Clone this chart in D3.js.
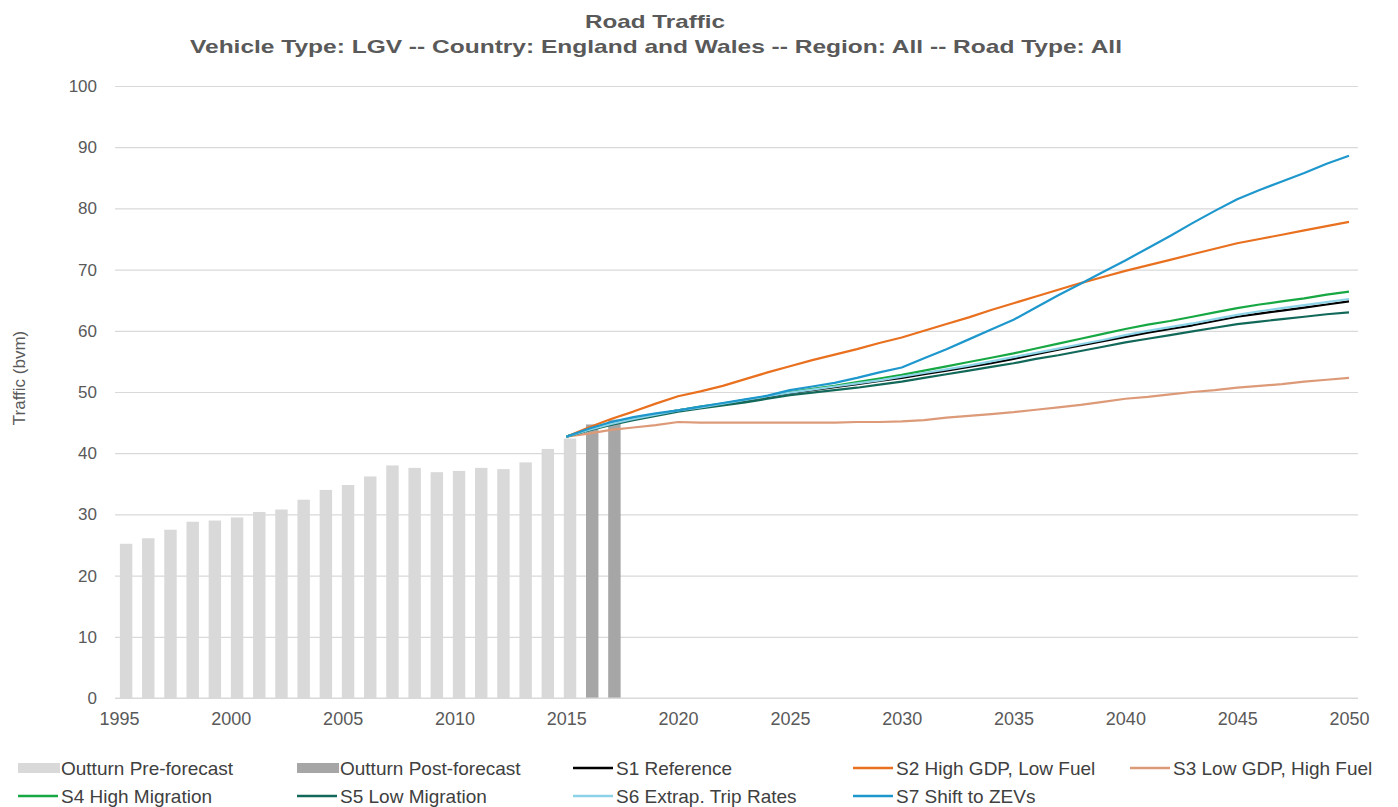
<!DOCTYPE html>
<html>
<head>
<meta charset="utf-8">
<script src="https://cdn.jsdelivr.net/npm/d3@7"></script>
<style>
  body { margin: 0; background: #fff; }
  svg { display: block; font-family: "Liberation Sans", Arial, sans-serif; }
</style>
</head>
<body>
<svg id="chart" width="1398" height="807"></svg>
<script>
"use strict";

// ─── Data ────────────────────────────────────────────────────────────────
const years = d3.range(1995, 2051);
const tickYears = [1995, 2000, 2005, 2010, 2015, 2020, 2025, 2030, 2035, 2040, 2045, 2050];
const yTicks = [0, 10, 20, 30, 40, 50, 60, 70, 80, 90, 100];

const preYears = d3.range(1995, 2016);
const preValues = [25.2, 26.1, 27.5, 28.8, 29.0, 29.5, 30.4, 30.8, 32.4, 34.0, 34.8,
  36.2, 38.0, 37.6, 36.9, 37.1, 37.6, 37.4, 38.5, 40.7, 42.4];
const postYears = [2016, 2017];
const postValues = [44.7, 45.5];

const forecastYears = d3.range(2015, 2051);
const s1 = [42.7, 43.8, 44.8, 45.6, 46.3, 47.0, 47.5, 48.0, 48.6, 49.2, 49.8, 50.3, 50.8, 51.3, 51.8, 52.3,
  52.9, 53.5, 54.1, 54.7, 55.4, 56.2, 56.9, 57.6, 58.3, 59.0, 59.7, 60.3, 60.9, 61.6, 62.3, 62.8, 63.3, 63.8, 64.3, 64.8];
const s2 = [42.7, 44.2, 45.6, 46.8, 48.1, 49.3, 50.1, 51.0, 52.1, 53.2, 54.2, 55.2, 56.1, 57.0, 58.0, 58.9,
  60.0, 61.1, 62.2, 63.4, 64.5, 65.6, 66.7, 67.8, 68.8, 69.8, 70.7, 71.6, 72.5, 73.4, 74.3, 75.0, 75.7, 76.4, 77.1, 77.8];
const s3 = [42.7, 43.2, 43.8, 44.2, 44.6, 45.1, 45.0, 45.0, 45.0, 45.0, 45.0, 45.0, 45.0, 45.1, 45.1, 45.2,
  45.4, 45.8, 46.1, 46.4, 46.7, 47.1, 47.5, 47.9, 48.4, 48.9, 49.2, 49.6, 50.0, 50.3, 50.7, 51.0, 51.3, 51.7, 52.0, 52.3];
const s4 = [42.7, 43.8, 44.8, 45.6, 46.3, 47.0, 47.6, 48.1, 48.7, 49.3, 50.0, 50.5, 51.0, 51.6, 52.2, 52.8,
  53.5, 54.2, 54.9, 55.6, 56.3, 57.1, 57.9, 58.7, 59.5, 60.3, 61.0, 61.6, 62.3, 63.0, 63.7, 64.3, 64.8, 65.3, 65.9, 66.4];
const s5 = [42.7, 43.7, 44.6, 45.4, 46.1, 46.8, 47.3, 47.8, 48.3, 48.9, 49.5, 49.9, 50.3, 50.7, 51.2, 51.7,
  52.3, 52.9, 53.5, 54.1, 54.7, 55.4, 56.0, 56.7, 57.4, 58.1, 58.7, 59.3, 59.9, 60.5, 61.1, 61.5, 61.9, 62.3, 62.7, 63.0];
const s6 = [42.7, 43.8, 44.8, 45.6, 46.3, 47.0, 47.5, 48.1, 48.7, 49.3, 49.9, 50.4, 50.9, 51.4, 51.9, 52.5,
  53.1, 53.7, 54.3, 55.0, 55.7, 56.4, 57.1, 57.8, 58.5, 59.3, 60.0, 60.6, 61.2, 61.9, 62.6, 63.2, 63.7, 64.2, 64.7, 65.2];
const s7 = [42.7, 44.0, 45.1, 45.9, 46.5, 47.0, 47.6, 48.2, 48.8, 49.4, 50.3, 50.9, 51.5, 52.3, 53.2, 54.0,
  55.5, 57.0, 58.6, 60.2, 61.8, 63.8, 65.8, 67.7, 69.6, 71.5, 73.5, 75.5, 77.6, 79.6, 81.5, 83.0, 84.4, 85.8, 87.3, 88.6];

const series = [
  { name: "S1 Reference", values: s1, color: "#000000" },
  { name: "S2 High GDP, Low Fuel", values: s2, color: "#E8701F" },
  { name: "S3 Low GDP, High Fuel", values: s3, color: "#DD9A78" },
  { name: "S4 High Migration", values: s4, color: "#17A843" },
  { name: "S5 Low Migration", values: s5, color: "#12695A" },
  { name: "S6 Extrap. Trip Rates", values: s6, color: "#8CD3E8" },
  { name: "S7 Shift to ZEVs", values: s7, color: "#1E97CC" },
];

// ─── Layout ──────────────────────────────────────────────────────────────
const svg = d3.select("#chart");
const plot = { left: 115, right: 1358, top: 86, bottom: 698 };
const textColor = "#595959";
const gridColor = "#d9d9d9";

// bars sit in category bands; lines and labels use the (slightly narrower) point axis
const xb = d3.scaleBand().domain(years).range([plot.left, plot.right]).padding(0);
const barW = xb.bandwidth() * 0.56;
const xp = d3.scalePoint().domain(years).range([119, 1349]);
const y = d3.scaleLinear().domain([0, 100]).range([plot.bottom, plot.top]);

// title
const title = svg.append("g").attr("fill", textColor).attr("font-weight", "bold")
  .attr("text-anchor", "middle").attr("font-size", 19);
title.append("text").attr("x", 655).attr("y", 28)
  .attr("textLength", 140).attr("lengthAdjust", "spacingAndGlyphs")
  .text("Road Traffic");
title.append("text").attr("x", 656).attr("y", 53)
  .attr("textLength", 932).attr("lengthAdjust", "spacingAndGlyphs")
  .text("Vehicle Type: LGV -- Country: England and Wales --  Region: All -- Road Type: All");

// gridlines + y labels
const yAxis = d3.axisLeft(y).tickValues(yTicks).tickSize(-(plot.right - plot.left)).tickPadding(18);
const gy = svg.append("g").attr("transform", `translate(${plot.left},0)`).call(yAxis);
gy.select(".domain").remove();
gy.selectAll(".tick line").attr("stroke", gridColor).attr("stroke-width", 1.2);
gy.selectAll(".tick text").attr("fill", textColor).attr("font-size", 17)
  .attr("font-family", "Liberation Sans, Arial, sans-serif");

svg.append("text")
  .attr("transform", "translate(25,378) rotate(-90)")
  .attr("text-anchor", "middle").attr("fill", textColor).attr("font-size", 17)
  .text("Traffic (bvm)");

// bars
svg.append("g").selectAll("rect.pre")
  .data(preYears.map((yr, i) => ({ yr, v: preValues[i] })))
  .join("rect").attr("class", "pre")
  .attr("x", d => xb(d.yr) + (xb.bandwidth() - barW) / 2).attr("width", barW)
  .attr("y", d => y(d.v)).attr("height", d => y(0) - y(d.v))
  .attr("fill", "#d9d9d9");
svg.append("g").selectAll("rect.post")
  .data(postYears.map((yr, i) => ({ yr, v: postValues[i] })))
  .join("rect").attr("class", "post")
  .attr("x", d => xb(d.yr) + (xb.bandwidth() - barW) / 2).attr("width", barW)
  .attr("y", d => y(d.v)).attr("height", d => y(0) - y(d.v))
  .attr("fill", "#a6a6a6");

// x axis: baseline across the plot, labels on the point axis
svg.append("line")
  .attr("x1", plot.left).attr("x2", plot.right)
  .attr("y1", plot.bottom).attr("y2", plot.bottom)
  .attr("stroke", gridColor).attr("stroke-width", 1.2);
const xAxis = d3.axisBottom(xp).tickValues(tickYears).tickSize(0).tickPadding(14);
const gx = svg.append("g").attr("transform", `translate(0,${plot.bottom})`).call(xAxis);
gx.select(".domain").remove();
gx.selectAll(".tick text").attr("fill", textColor).attr("font-size", 18)
  .attr("font-family", "Liberation Sans, Arial, sans-serif");

// lines
const line = d3.line().x((d, i) => xp(forecastYears[i])).y(d => y(d));
svg.append("g").selectAll("path")
  .data(series)
  .join("path")
  .attr("d", d => line(d.values))
  .attr("fill", "none")
  .attr("stroke", d => d.color)
  .attr("stroke-width", 2.2)
  .attr("stroke-linejoin", "round");

// legend
const legendItems = [
  { name: "Outturn Pre-forecast", type: "bar", color: "#d9d9d9" },
  { name: "Outturn Post-forecast", type: "bar", color: "#a6a6a6" },
  ...series.map(s => ({ name: s.name, type: "line", color: s.color })),
];
const colX = [18, 297, 573, 853, 1130];
const rowY = [768, 796];
const lg = svg.append("g").attr("font-size", 19).attr("fill", "#404040");
legendItems.forEach((d, i) => {
  const g = lg.append("g")
    .attr("transform", `translate(${colX[i % 5]},${rowY[Math.floor(i / 5)]})`);
  if (d.type === "bar") {
    g.append("rect").attr("x", 0).attr("y", -5).attr("width", 42).attr("height", 10).attr("fill", d.color);
  } else {
    g.append("line").attr("x1", 0).attr("x2", 40).attr("y1", 0).attr("y2", 0)
      .attr("stroke", d.color).attr("stroke-width", 2.5);
  }
  g.append("text").attr("x", 43).attr("y", 6.5).text(d.name);
});
</script>
</body>
</html>
